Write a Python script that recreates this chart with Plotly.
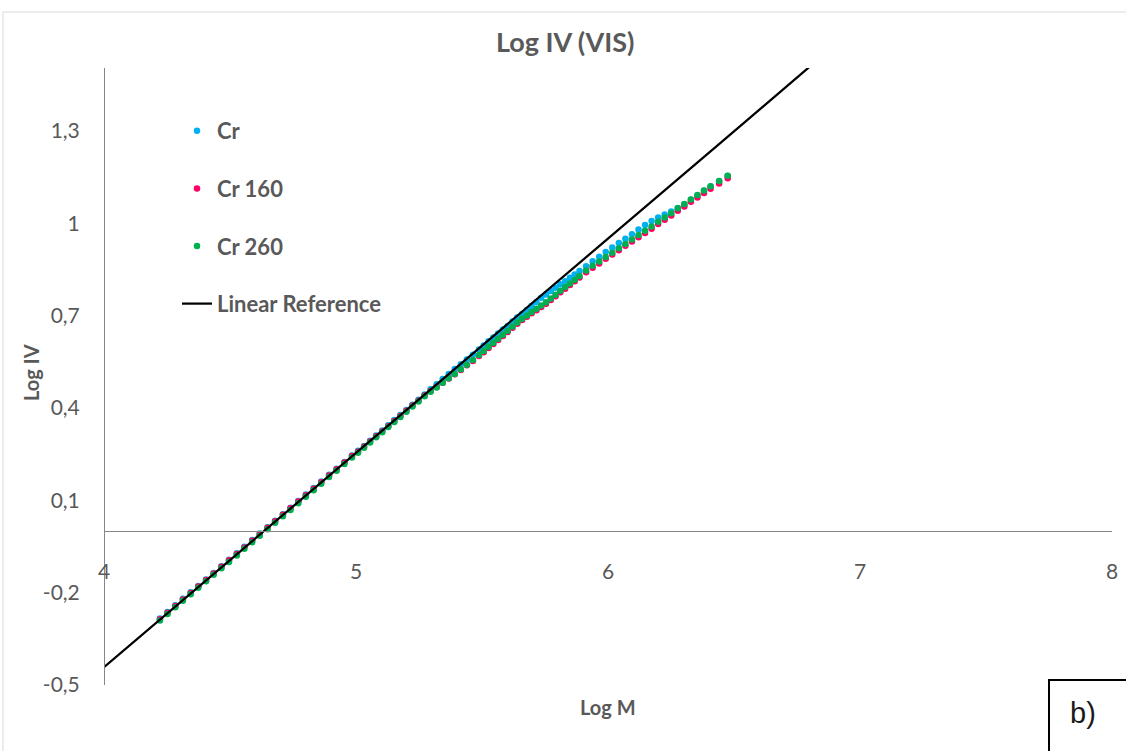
import plotly.graph_objects as go

# Log M values (shared by the three samples)
log_m = [
    4.222, 4.252, 4.283, 4.313, 4.344, 4.374, 4.405, 4.435, 4.466, 4.496,
    4.527, 4.557, 4.588, 4.618, 4.649, 4.679, 4.710, 4.740, 4.771, 4.801,
    4.832, 4.862, 4.893, 4.923, 4.954, 4.984,
    5.008, 5.032, 5.056, 5.080, 5.104, 5.128, 5.152, 5.176, 5.200, 5.224,
    5.248, 5.272, 5.296, 5.320, 5.344, 5.368, 5.392, 5.416, 5.440, 5.464, 5.488,
    5.507, 5.526, 5.545, 5.564, 5.583, 5.602, 5.621, 5.640, 5.659, 5.678,
    5.697, 5.716, 5.735, 5.754, 5.773, 5.792, 5.811, 5.830, 5.849, 5.868, 5.887,
    5.913, 5.939, 5.965, 5.991, 6.017, 6.043, 6.069, 6.095, 6.121, 6.147,
    6.173, 6.199, 6.225, 6.251, 6.277, 6.303, 6.329, 6.355, 6.381, 6.407, 6.441, 6.475,
]

# Log IV per sample
cr = [
    -0.284, -0.263, -0.241, -0.220, -0.199, -0.178, -0.157, -0.136, -0.114, -0.093,
    -0.072, -0.051, -0.029, -0.008, 0.013, 0.034, 0.055, 0.076, 0.098, 0.119,
    0.140, 0.161, 0.183, 0.203, 0.225, 0.246,
    0.261, 0.277, 0.294, 0.311, 0.327, 0.344, 0.361, 0.377, 0.394, 0.411,
    0.427, 0.444, 0.461, 0.477, 0.494, 0.511, 0.527, 0.542, 0.558, 0.573, 0.590,
    0.603, 0.617, 0.629, 0.642, 0.655, 0.667, 0.681, 0.694, 0.706, 0.719,
    0.732, 0.745, 0.758, 0.769, 0.780, 0.791, 0.802, 0.812, 0.823, 0.834, 0.845,
    0.861, 0.877, 0.892, 0.907, 0.922, 0.936, 0.950, 0.965, 0.980, 0.995,
    1.008, 1.019, 1.029, 1.039, 1.050, 1.062, 1.077, 1.091, 1.106, 1.120, 1.137, 1.154,
]

cr_160 = [
    -0.286, -0.265, -0.243, -0.222, -0.201, -0.180, -0.159, -0.138, -0.116, -0.095,
    -0.074, -0.053, -0.031, -0.010, 0.011, 0.032, 0.053, 0.074, 0.096, 0.117,
    0.138, 0.159, 0.181, 0.201, 0.223, 0.244,
    0.258, 0.274, 0.291, 0.308, 0.324, 0.341, 0.358, 0.374, 0.391, 0.408,
    0.424, 0.441, 0.455, 0.468, 0.482, 0.496, 0.510, 0.524, 0.539, 0.553, 0.569,
    0.581, 0.595, 0.608, 0.621, 0.634, 0.647, 0.661, 0.674, 0.686, 0.697,
    0.708, 0.718, 0.728, 0.739, 0.751, 0.763, 0.776, 0.788, 0.800, 0.812, 0.824,
    0.841, 0.856, 0.870, 0.885, 0.899, 0.913, 0.927, 0.941, 0.955, 0.969,
    0.983, 0.998, 1.012, 1.026, 1.041, 1.055, 1.070, 1.084, 1.099, 1.113, 1.130, 1.147,
]

cr_260 = [
    -0.290, -0.269, -0.247, -0.226, -0.205, -0.184, -0.163, -0.142, -0.121, -0.100,
    -0.079, -0.057, -0.036, -0.015, 0.006, 0.027, 0.048, 0.069, 0.091, 0.112,
    0.133, 0.154, 0.176, 0.196, 0.218, 0.239,
    0.255, 0.271, 0.288, 0.305, 0.321, 0.338, 0.355, 0.371, 0.388, 0.405,
    0.421, 0.438, 0.453, 0.467, 0.482, 0.497, 0.511, 0.526, 0.541, 0.556, 0.572,
    0.585, 0.599, 0.612, 0.625, 0.638, 0.651, 0.665, 0.678, 0.690, 0.701,
    0.712, 0.723, 0.733, 0.744, 0.756, 0.768, 0.781, 0.793, 0.805, 0.817, 0.829,
    0.847, 0.862, 0.876, 0.891, 0.905, 0.919, 0.933, 0.948, 0.962, 0.976,
    0.990, 1.005, 1.019, 1.033, 1.049, 1.063, 1.078, 1.092, 1.107, 1.121, 1.138, 1.155,
]

# Linear reference
ref_x = [4.0, 4.6, 5.25, 5.57, 5.95, 6.10, 6.45, 6.85]
ref_y = [-0.442, -0.024, 0.428, 0.650, 0.915, 1.018, 1.264, 1.544]

x_ticks = [4, 5, 6, 7, 8]
y_ticks = [-0.5, -0.2, 0.1, 0.4, 0.7, 1.0, 1.3]
y_tick_text = ["-0,5", "-0,2", "0,1", "0,4", "0,7", "1", "1,3"]

X_RANGE = [4, 8]
Y_RANGE = [-0.5, 1.505]

FONT = "Lato, 'Open Sans', sans-serif"
GREY = "#595959"
AXIS_GREY = "#868686"

# plot area in pixels
W, H = 1126, 751
ML, MR, MT, MB = 104, 14, 68, 66
PW, PH = W - ML - MR, H - MT - MB


def px_x(p):
    return (p - ML) / PW


def px_y(p):
    return (H - MB - p) / PH


zero_pos = (0 - Y_RANGE[0]) / (Y_RANGE[1] - Y_RANGE[0])

fig = go.Figure()

series = [
    ("Cr", cr, "#00B0F0"),
    ("Cr 160", cr_160, "#FF0066"),
    ("Cr 260", cr_260, "#00B050"),
]
for name, values, color in series:
    fig.add_trace(go.Scatter(
        x=log_m, y=values, name=name, mode="markers",
        marker=dict(size=6.5, color=color, line=dict(width=0)),
        legendgroup=name,
    ))

fig.add_trace(go.Scatter(
    x=ref_x, y=ref_y, name="Linear Reference", mode="lines",
    line=dict(color="black", width=2.25),
    legendgroup="ref",
))

fig.update_layout(
    width=W, height=H,
    margin=dict(l=ML, r=MR, t=MT, b=MB, autoexpand=False),
    paper_bgcolor="white", plot_bgcolor="white",
    font=dict(family=FONT, color=GREY),
    title=dict(
        text="Log IV (VIS)", xref="container", x=0.502, xanchor="center",
        yref="container", y=1 - 43 / H, yanchor="middle",
        font=dict(size=27, weight="bold", color=GREY, family=FONT),
    ),
    xaxis=dict(
        range=X_RANGE, anchor="free", position=zero_pos, automargin=False,
        showline=True, linecolor=AXIS_GREY, linewidth=1,
        showgrid=False, zeroline=False,
        tickvals=x_ticks, ticks="", ticklabelstandoff=22,
        tickfont=dict(size=21, color=GREY, family=FONT),
    ),
    yaxis=dict(
        range=Y_RANGE, anchor="free", position=0, automargin=False,
        showline=True, linecolor=AXIS_GREY, linewidth=1,
        showgrid=False, zeroline=False,
        tickvals=y_ticks, ticktext=y_tick_text, ticks="", ticklabelstandoff=20,
        tickfont=dict(size=21, color=GREY, family=FONT),
    ),
    legend=dict(
        x=px_x(177), y=px_y(110), xanchor="left", yanchor="top",
        bgcolor="rgba(0,0,0,0)", tracegroupgap=26,
        font=dict(size=22, weight="bold", color=GREY, family=FONT),
    ),
    showlegend=True,
)

fig.add_annotation(
    text="Log M", xref="paper", yref="paper", x=px_x(608), y=px_y(707),
    xanchor="center", yanchor="middle", showarrow=False,
    font=dict(size=20, weight="bold", color=GREY, family=FONT),
)
fig.add_annotation(
    text="Log IV", xref="paper", yref="paper", x=px_x(31), y=px_y(373),
    xanchor="center", yanchor="middle", showarrow=False, textangle=-90,
    font=dict(size=20, weight="bold", color=GREY, family=FONT),
)

# chart frame
fig.add_shape(
    type="rect", xref="paper", yref="paper",
    x0=px_x(3), x1=px_x(1140), y0=px_y(770), y1=px_y(12),
    line=dict(color="#d9d9d9", width=1), layer="below",
)

# panel label box
fig.add_shape(
    type="rect", xref="paper", yref="paper",
    x0=px_x(1049), x1=px_x(1140), y0=px_y(770), y1=px_y(680),
    line=dict(color="black", width=2),
)
fig.add_annotation(
    text="b)", xref="paper", yref="paper", x=px_x(1083), y=px_y(713),
    xanchor="center", yanchor="middle", showarrow=False,
    font=dict(size=29, color="#1a1a1a", family="'Liberation Sans', Arial, sans-serif"),
)

fig.write_html("out.html")
